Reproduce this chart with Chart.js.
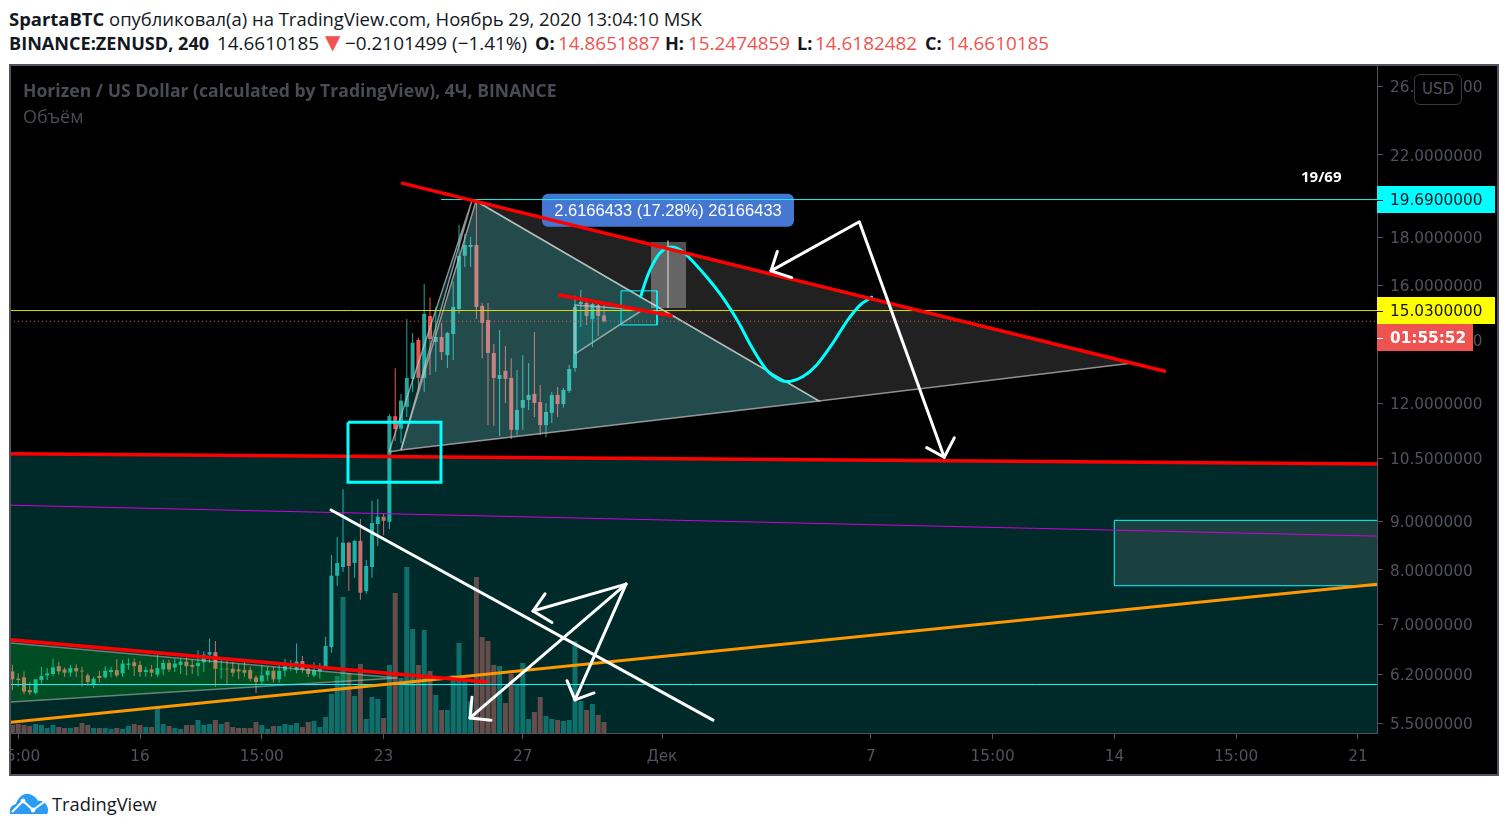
<!DOCTYPE html>
<html lang="ru"><head><meta charset="utf-8">
<title>ZENUSD</title>
<style>
html,body{margin:0;padding:0;background:#fff;width:1508px;height:831px;overflow:hidden}
.t{position:absolute;white-space:nowrap;font-family:"Open Sans","Noto Sans",sans-serif;color:#131722;font-size:18.9px;line-height:22px}
.b{font-weight:700;font-size:18.1px}
.r{color:#ef5350}
#frame{position:absolute;left:9px;top:64px;width:1486px;height:708px;border:2px solid #50535e;background:#000}
#wrap{position:absolute;left:11px;top:66px;width:1487px;height:709px;overflow:hidden}
canvas{display:block}
.leg{color:#4a4c55}
#usd{position:absolute;left:1414px;top:74px;width:46px;height:29px;border:1px solid #363a45;border-radius:6px;background:#000;color:#50535e;font:15px "DejaVu Sans",sans-serif;line-height:29px;text-align:center}
</style>
<script src="https://cdn.jsdelivr.net/npm/chart.js@4/dist/chart.umd.min.js"></script>
</head><body>
<div class="t" style="left:9px;top:8px;font-size:18.45px"><span class="b" style="font-size:18.45px">SpartaBTC</span> опубликовал(а) на TradingView.com, Ноябрь 29, 2020 13:04:10 MSK</div>
<div class="t b" style="left:9px;top:32px">BINANCE:ZENUSD, 240</div>
<div class="t" style="left:217px;top:32px">14.6610185</div>
<div class="t r" style="left:325px;top:31px;font-family:'DejaVu Sans';font-size:20px">▼</div>
<div class="t" style="left:345px;top:32px">−0.2101499 (−1.41%)</div>
<div class="t b" style="left:535px;top:32px">O:</div><div class="t r" style="left:558px;top:32px">14.8651887</div>
<div class="t b" style="left:665px;top:32px">H:</div><div class="t r" style="left:688px;top:32px">15.2474859</div>
<div class="t b" style="left:797px;top:32px">L:</div><div class="t r" style="left:815px;top:32px">14.6182482</div>
<div class="t b" style="left:925px;top:32px">C:</div><div class="t r" style="left:947px;top:32px">14.6610185</div>
<div id="frame"></div>
<div id="wrap"><canvas id="c" width="1487" height="709"></canvas></div>
<div class="t b leg" style="left:23px;top:79px;font-size:17.6px">Horizen / US Dollar (calculated by TradingView), 4Ч, BINANCE</div>
<div class="t leg" style="left:23px;top:105px;font-size:18px">Объём</div>
<div class="t b" style="left:1301px;top:165px;color:#fff;font-size:15px">19/69</div>
<div id="usd">USD</div>
<svg style="position:absolute;left:9px;top:792px" width="40" height="24" viewBox="0 0 40 24">
<path d="M1 22c-1-5 1-9 6-10 2-6 7-11 13-10 4 1 7 3 9 7 5-1 9 3 10 8 0 2 0 4-1 5z" fill="#2a9cf4"/>
<polyline points="3,20 14,9 24,18 35,10" fill="none" stroke="#fff" stroke-width="2"/>
<circle cx="14" cy="9" r="2.4" fill="#fff"/><circle cx="24" cy="18" r="2.4" fill="#fff"/>
</svg>
<div class="t" style="left:52px;top:793px;font-size:18.3px">TradingView</div>
<script>
const firstCandleDay = 12 + 2/6, candlesPerDay = 6;
const opens = [6.24,6.13,6.15,5.96,5.92,6.11,6.18,6.20,6.32,6.27,
6.22,6.29,6.25,6.18,6.05,6.17,6.15,6.23,6.26,6.21,
6.34,6.38,6.34,6.23,6.27,6.19,6.27,6.37,6.30,6.34,
6.39,6.34,6.32,6.38,6.50,6.54,6.27,6.28,6.28,6.27,
6.26,6.26,6.15,6.09,6.18,6.25,6.12,6.25,6.31,6.26,
6.40,6.28,6.18,6.24,6.31,6.62,7.88,8.05,8.54,8.13,
8.58,7.59,8.05,8.94,9.10,8.99,11.63,11.28,11.90,12.74,
14.01,12.77,14.85,13.94,14.11,13.50,14.21,15.11,17.20,17.57,
17.66,15.22,14.71,13.57,12.74,12.99,12.77,11.25,11.87,12.10,
12.28,12.04,11.38,11.72,12.25,11.98,12.37,13.08,15.29,15.33,
14.74,15.25,14.87];
const highs = [6.34,6.21,6.24,6.08,6.12,6.31,6.29,6.44,6.39,6.30,
6.34,6.35,6.31,6.21,6.16,6.25,6.32,6.31,6.43,6.42,
6.44,6.44,6.40,6.31,6.34,6.50,6.42,6.42,6.44,6.44,
6.46,6.42,6.57,6.55,6.76,6.72,6.42,6.46,6.39,6.36,
6.42,6.31,6.18,6.34,6.31,6.31,6.34,6.43,6.41,6.68,
6.48,6.31,6.38,6.37,6.79,8.29,8.66,9.73,8.56,8.60,
9.05,8.19,9.46,9.50,9.18,11.69,13.07,12.28,14.74,14.25,
14.08,16.06,15.55,15.17,14.60,14.28,16.14,18.55,18.14,18.01,
19.69,15.33,15.33,13.87,14.35,13.80,13.40,13.02,13.50,13.24,
14.28,12.55,12.01,12.34,12.49,12.46,13.18,15.60,15.83,15.52,
15.37,15.33,15.25];
const lows = [5.96,6.01,5.90,5.89,5.90,6.06,6.11,6.17,6.19,6.16,
6.16,6.15,6.01,6.02,5.99,6.07,6.13,6.15,6.15,6.16,
6.26,6.17,6.16,6.16,6.16,6.16,6.18,6.23,6.23,6.20,
6.18,6.20,6.17,6.23,6.37,6.01,6.13,6.05,6.16,6.12,
6.16,6.09,5.92,6.05,6.10,6.07,6.07,6.16,6.25,6.21,
6.22,6.16,6.15,6.13,6.29,6.53,7.69,7.95,7.59,7.84,
7.43,7.54,7.84,8.47,8.70,8.83,10.95,10.89,11.61,12.34,
12.40,12.34,12.86,12.96,13.34,13.08,13.34,14.93,16.74,16.74,
14.74,13.40,11.38,11.36,11.08,12.01,11.00,11.11,11.25,11.81,
11.61,11.11,11.05,11.44,11.61,11.87,12.31,12.96,14.46,14.53,
13.77,14.14,14.62];
const closes = [6.12,6.11,5.94,5.93,6.12,6.17,6.21,6.30,6.24,6.22,
6.29,6.24,6.24,6.08,6.13,6.14,6.25,6.26,6.18,6.36,
6.36,6.32,6.23,6.26,6.22,6.29,6.37,6.27,6.36,6.39,
6.32,6.31,6.37,6.50,6.54,6.28,6.28,6.27,6.22,6.24,
6.22,6.13,6.08,6.18,6.25,6.12,6.25,6.32,6.32,6.39,
6.26,6.20,6.26,6.32,6.64,7.88,8.13,8.54,8.07,8.58,
7.56,8.07,8.96,9.10,9.01,11.63,11.27,12.08,12.77,13.91,
12.77,14.93,14.04,14.11,13.60,14.25,15.18,17.20,17.66,17.66,
15.18,14.60,13.57,12.77,12.86,12.74,11.25,11.81,12.10,12.25,
12.01,11.38,11.75,12.25,11.98,12.40,13.05,15.18,15.37,14.85,
15.29,14.85,14.66];
const volumes = [8,9,8,7,9,8,5,8,6,5,
5,6,10,8,5,5,5,4,5,4,
7,9,8,6,6,27,9,7,5,4,
8,8,13,8,9,13,9,11,6,5,
5,5,11,8,4,7,7,9,8,10,
6,11,12,6,16,39,57,136,60,37,
69,14,36,34,15,68,140,55,166,104,
68,103,62,38,23,23,58,90,52,32,
156,96,92,68,67,30,59,49,70,14,
21,36,17,14,13,12,13,92,32,23,
29,18,11];

const xTickDays = [12.5,16,19.5,23,27,31,37,40.5,44,47.5,51];
const xTickLabels = ['15:00','16','15:00','23','27','Дек','7','15:00','14','15:00','21'];
const yTickValues = [26,22,18,16,14,12,10.5,9,8,7,6.2,5.5];
const xMin = 12.293, xMax = 51.546, yMin = 5.369, yMax = 27.33, volMax = 667;

const supportRed = [[12.264,10.61],[51.546,10.35]];
const wedgeRed = [[23.5,20.55],[45.483,12.97]];
const shortRed = [[28.011,15.64],[31.31,14.85]];
const lowRed = [[12.264,6.74],[25.971,6.08]];
const orangeTrend = [[12.264,5.51],[51.546,7.72]];
const magentaLine = [[12.264,9.36],[51.546,8.68]];
const whiteTrend = [[21.489,9.25],[32.466,5.54]];
const greenWedge = [[12.264,6.69],[23.4,6.14],[12.264,5.79],[12.264,6.69]];
const sliver = [[23.155,10.66],[25.54,19.69],[23.5,10.71],[23.155,10.66]];
const mainTriangle = [[23.5,10.71],[25.655,19.66],[35.511,12.07],[23.5,10.71]];
const greyWedge = [[25.655,19.66],[44.534,13.24],[35.511,12.07],[25.655,19.66]];
const smallTriangle = [[28.5,13.54],[28.5,15.25],[30.44,15.07],[28.5,13.54]];
const bigCyanBox = [[21.977,11.46],[24.649,11.46],[24.649,9.90],[21.977,9.90],[21.977,11.46]];
const smallCyanBox = [[29.822,15.79],[30.856,15.79],[30.856,14.53],[29.822,14.53],[29.822,15.79]];
const greyBox = [[30.684,17.79],[31.69,17.79],[31.69,15.14],[30.684,15.14],[30.684,17.79]];
const greyBoxMid = [[31.172,17.85],[31.172,15.14]];
const tealBox = [[43.997,9.02],[52,9.02],[52,7.69],[43.997,7.69],[43.997,9.02]];
const forecastCurve = [[30.388,15.57],[30.511,16.10],[30.704,16.76],[30.943,17.32],[31.201,17.56],[31.46,17.51],[31.747,17.17],[32.284,16.33],[32.753,15.52],[33.184,14.65],[33.578,13.77],[34.009,13.02],[34.391,12.71],[34.678,12.66],[35.052,12.81],[35.445,13.18],[35.914,13.91],[36.307,14.65],[36.69,15.25],[37.026,15.55]];
const bigArrow = [[34.132,16.58],[36.67,18.69],[39.11,10.52]];
const bigArrowHeadA = [[34.313,17.38],[34.132,16.58],[34.727,16.31]];
const bigArrowHeadB = [[38.606,10.77],[39.11,10.52],[39.399,11.03]];
const apexToA = [[29.966,7.72],[27.293,7.23]];
const headA = [[27.638,7.54],[27.293,7.23],[27.839,7.03]];
const apexToB = [[29.966,7.72],[25.483,5.57]];
const headB = [[25.54,5.86],[25.483,5.57],[26.086,5.54]];
const apexToC = [[29.966,7.72],[28.5,5.82]];
const headC = [[28.27,6.10],[28.5,5.82],[29.046,5.92]];
const highLevel = [[24.649,19.73],[51.546,19.73]];
const yellowLevel = [[12.264,15.05],[51.546,15.05]];
const lastPriceLevel = [[12.264,14.66],[51.546,14.66]];
const cyanLevel = [[12.264,6.043],[51.546,6.043]];

const candleDays = opens.map((_, k) => firstCandleDay + k / candlesPerDay);
const up = opens.map((o, k) => closes[k] >= o);
const candleColors = up.map(u => u ? '#26a69a' : '#ef5350');
const volColors = up.map(u => u ? 'rgba(38,166,154,.5)' : 'rgba(239,83,80,.5)');
const pts = a => a.map(p => ({x: p[0], y: p[1]}));

let ord = 100;
function line(name, data, color, width, extra) {
  return Object.assign({type:'line', label:name, data:pts(data), borderColor:color, borderWidth:width,
    backgroundColor:'transparent', pointRadius:0, tension:0, fill:false, order:ord--,
    xAxisID:'x', yAxisID:'y', borderCapStyle:'butt', borderJoinStyle:'miter'}, extra||{});
}
function shape(name, data, fillColor, edge, width) {
  return line(name, data, edge, width, {fill:'shape', backgroundColor:fillColor});
}
const round = {borderCapStyle:'round', borderJoinStyle:'round'};
const edge = 'rgba(200,200,200,.7)';

const datasets = [
  {type:'bar', label:'volume', yAxisID:'vol', xAxisID:'x', grouped:false, barThickness:5, inflateAmount:0,
   data:volumes.map((v,k)=>({x:candleDays[k], y:v})), backgroundColor:volColors, order:ord--},
  {type:'bar', label:'wicks', yAxisID:'y', xAxisID:'x', grouped:false, barThickness:1, inflateAmount:0,
   data:lows.map((l,k)=>({x:candleDays[k], y:[l, highs[k]]})), backgroundColor:candleColors, order:ord--},
  {type:'bar', label:'bodies', yAxisID:'y', xAxisID:'x', grouped:false, barThickness:4, inflateAmount:0,
   data:opens.map((o,k)=>({x:candleDays[k], y:[Math.min(o,closes[k]), Math.max(o,closes[k])]})), backgroundColor:candleColors, order:ord--},
  line('zone', supportRed, 'transparent', 0, {fill:'start', backgroundColor:'rgba(0,255,255,.165)'}),
  shape('greenWedge', greenWedge, 'rgba(0,255,0,.16)', 'rgba(190,190,190,.55)', 1.5),
  shape('tealBox', tealBox, 'rgba(255,255,255,.105)', '#00ffff', 1),
  shape('greyWedge', greyWedge, 'rgba(255,255,255,.13)', edge, 1.5),
  shape('mainTriangle', mainTriangle, 'rgba(112,234,234,.32)', edge, 1.5),
  shape('sliver', sliver, 'rgba(0,220,220,.2)', edge, 1.5),
  shape('smallTriangle', smallTriangle, 'rgba(0,200,200,.15)', edge, 1.5),
  shape('greyBox', greyBox, 'rgba(255,255,255,.31)', 'transparent', 0),
  line('greyBoxMid', greyBoxMid, 'rgba(200,200,200,.6)', 1),
  line('magenta', magentaLine, '#d000d8', 1),
  line('highLevel', highLevel, '#18eeee', 1),
  line('yellow', yellowLevel, '#dcdc00', 1),
  line('last', lastPriceLevel, '#ef5350', 1, {borderDash:[1,3]}),
  line('cyanLevel', cyanLevel, '#00ffff', 1),
  shape('smallCyanBox', smallCyanBox, 'rgba(0,255,255,.04)', '#00ffff', 1),
  line('orange', orangeTrend, '#ff9800', 3),
  line('lowRed', lowRed, '#ff0000', 3.5),
  line('curve', forecastCurve, '#00ffff', 3, Object.assign({tension:.35}, round)),
  line('wedgeRed', wedgeRed, '#ff0000', 3.5),
  line('shortRed', shortRed, '#ff0000', 3.5),
  line('supportRed', supportRed, '#ff0000', 3.5),
  line('bigCyanBox', bigCyanBox, '#00ffff', 3),
  line('whiteTrend', whiteTrend, '#ffffff', 3, round),
  line('apexToA', apexToA, '#ffffff', 3, round),
  line('headA', headA, '#ffffff', 3, round),
  line('apexToB', apexToB, '#ffffff', 3, round),
  line('headB', headB, '#ffffff', 3, round),
  line('apexToC', apexToC, '#ffffff', 3, round),
  line('headC', headC, '#ffffff', 3, round),
  line('bigArrow', bigArrow, '#ffffff', 3, round),
  line('bigArrowHeadA', bigArrowHeadA, '#ffffff', 3, round),
  line('bigArrowHeadB', bigArrowHeadB, '#ffffff', 3, round)
];

const axisTags = [
  {value:19.69, text:'19.6900000', bg:'#00ffff', fg:'#131722', w:118, bold:false},
  {value:15.03, text:'15.0300000', bg:'#ffff00', fg:'#131722', w:118, bold:false},
  {value:14.07, text:'01:55:52',   bg:'#ef5350', fg:'#ffffff', w:96,  bold:true}
];
const bubble = {day:31.172, price:19.22, w:252, h:33, text:'2.6166433 (17.28%) 26166433'};

const overlay = {
  id:'overlay',
  afterDatasetDraw(chart, args) {
    if (chart.data.datasets[args.index].label !== 'greyWedge') return;
    const {ctx, scales:{x, y}} = chart;
    const cx = x.getPixelForValue(bubble.day), cy = y.getPixelForValue(bubble.price);
    ctx.save();
    ctx.fillStyle = '#4577d2';
    ctx.beginPath();
    ctx.roundRect(cx - bubble.w/2, cy - bubble.h/2, bubble.w, bubble.h, 6);
    ctx.fill();
    ctx.fillStyle = '#fff';
    ctx.font = '16.5px "Liberation Sans", sans-serif';
    ctx.textAlign = 'center';
    ctx.textBaseline = 'middle';
    ctx.fillText(bubble.text, cx, cy + 1);
    ctx.restore();
  },
  afterDraw(chart) {
    const {ctx, chartArea, scales:{y}} = chart;
    ctx.save();
    for (const t of axisTags) {
      const py = Math.round(y.getPixelForValue(t.value));
      ctx.fillStyle = t.bg;
      ctx.fillRect(chartArea.right, py - 14, t.w, 27);
      ctx.fillStyle = t.fg;
      ctx.fillRect(chartArea.right, py, 6, 1);
      ctx.font = (t.bold ? 'bold ' : '') + '15.3px "DejaVu Sans", sans-serif';
      ctx.textAlign = 'left';
      ctx.textBaseline = 'middle';
      ctx.fillText(t.text, chartArea.right + 13, py + 1);
    }
    ctx.restore();
  }
};

new Chart(document.getElementById('c'), {
  type:'line',
  data:{datasets},
  plugins:[overlay],
  options:{
    responsive:false, animation:false, events:[],
    layout:{padding:0},
    plugins:{legend:{display:false}, tooltip:{enabled:false}, title:{display:false}},
    scales:{
      x:{type:'linear', position:'bottom', min:xMin, max:xMax, bounds:'data', offset:false,
        afterBuildTicks(a){a.ticks = xTickDays.map(v=>({value:v}));},
        afterFit(a){a.height = 42; a.paddingLeft = 0; a.paddingRight = 0;},
        grid:{offset:false, drawOnChartArea:false, drawTicks:true, tickLength:6, color:'#50535e'},
        border:{color:'#50535e', width:1},
        ticks:{autoSkip:false, maxRotation:0, minRotation:0, padding:9, color:'#50535e',
          font:{family:'"DejaVu Sans"', size:15.3},
          callback:(v,i)=>xTickLabels[i]}},
      y:{type:'logarithmic', position:'right', min:yMin, max:yMax, bounds:'data',
        afterBuildTicks(a){a.ticks = yTickValues.map(v=>({value:v}));},
        afterFit(a){a.width = 121; a.paddingTop = 0; a.paddingBottom = 0;},
        grid:{offset:false, drawOnChartArea:false, drawTicks:true, tickLength:6, color:'#50535e'},
        border:{color:'#50535e', width:1},
        ticks:{autoSkip:false, padding:7, labelOffset:2, color:'#50535e',
          font:{family:'"DejaVu Sans"', size:15.3},
          callback:v=>Number(v).toFixed(7)}},
      vol:{type:'linear', display:false, min:0, max:volMax, position:'left'}
    }
  }
});
</script>
</body></html>
